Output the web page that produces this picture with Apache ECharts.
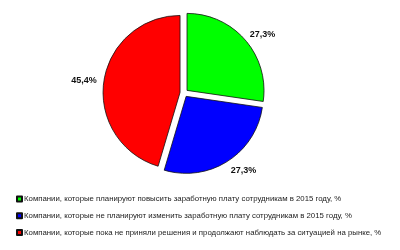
<!DOCTYPE html>
<html><head><meta charset="utf-8">
<script src="https://cdn.jsdelivr.net/npm/echarts@6/dist/echarts.min.js"></script>
<style>html,body{margin:0;padding:0;background:#fff}#c{width:400px;height:250px}</style>
</head><body><div id="c"></div>
<script>
const categories = [
  'Компании, которые планируют повысить заработную плату сотрудникам в 2015 году, %',
  'Компании, которые не планируют изменить заработную плату сотрудникам в 2015 году, %',
  'Компании, которые пока не приняли решения и продолжают наблюдать за ситуацией на рынке, %'
];
const values = [27.3, 27.3, 45.4];
const colors = ['#00ff00', '#0000ff', '#ff0000'];
const labelShift = [[-2, -4], [-3, 8], [0, -1]];

const chart = echarts.init(document.getElementById('c'), null, {renderer: 'canvas'});
chart.setOption({
  animation: false,
  legend: {
    orient: 'vertical', left: 11, top: 190, itemWidth: 5, itemHeight: 5, itemGap: 8.7,
    icon: 'rect',
    textStyle: {fontFamily: 'Liberation Sans', fontSize: 7.8, color: '#222', padding: [0,0,0,-3]},
    data: categories
  },
  series: [{
    type: 'pie',
    center: [184, 93],
    radius: 77,
    startAngle: 90,
    clockwise: true,
    selectedMode: 'multiple',
    selectedOffset: 4,
    itemStyle: {borderColor: '#111', borderWidth: 0.8},
    label: {
      show: true, position: 'outside', fontFamily: 'Liberation Sans', fontSize: 9, fontWeight: 'bold', color: '#111',
      formatter: p => p.value.toFixed(1).replace('.', ',') + '%'
    },
    labelLine: {show: false, length: 2, length2: 0},
    labelLayout: p => ({dx: labelShift[p.dataIndex][0], dy: labelShift[p.dataIndex][1]}),
    emphasis: {disabled: true},
    data: categories.map((n, i) => ({name: n, value: values[i], selected: true, itemStyle: {color: colors[i]}}))
  }]
});
</script></body></html>
